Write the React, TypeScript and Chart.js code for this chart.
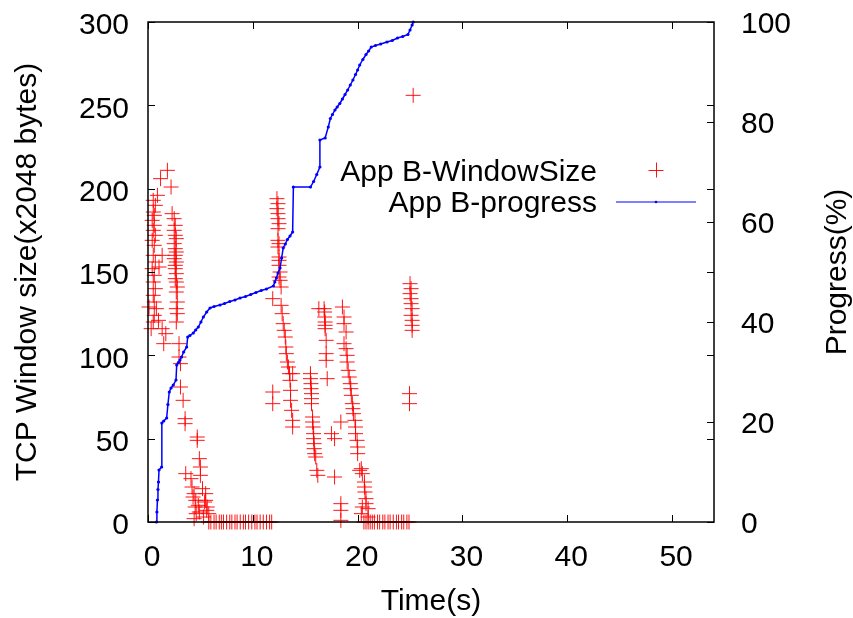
import React, { useEffect, useRef } from "react";
import { Chart, registerables } from "chart.js";

Chart.register(...registerables);

// ---- tick labels ----
const xTicks = [0, 10, 20, 30, 40, 50];
const yTicks = [0, 50, 100, 150, 200, 250, 300];
const y2Ticks = [0, 20, 40, 60, 80, 100];

// ---- App B-WindowSize (time s, window x2048 bytes) ----
const windowTime = [
  // cluster near t=0-1
  0.1, 0.9, 0.5, 0.7, 0.5, 0.6, 0.4, 0.6, 0.5, 0.7, 0.4, 0.6, 0.5, 0.7, 0.4, 0.6, 0.5, 0.7, 0.5, 0.6, 0.8, 0.6, 0.5, 0.3,
  1.2, 1.85, 2.2, 1.05, 1.35, 1.0, 1.35, 1.5, 1.7,
  // cluster near t=2.5
  2.3, 2.5, 2.6, 2.5, 2.6, 2.7, 2.5, 2.6, 2.7, 2.6, 2.5, 2.7, 2.6, 2.6, 2.7, 2.6, 2.7, 2.8, 2.7, 2.8, 2.7, 2.8, 2.7,
  // descent t=3-6
  2.96, 2.96, 3.1, 3.1, 3.35, 3.54, 3.54, 4.7, 4.7, 4.9, 5.0, 5.0, 3.6, 4.1, 4.2, 4.4, 4.56, 5.5, 5.5, 5.65, 5.8, 4.4,
  4.8, 5.2, 4.9, 5.3, 4.3, 4.5, 4.6, 5.4, 5.6,
  // zeros
  5.8, 6.0, 6.3, 6.5, 6.8, 7.0, 7.2, 7.5, 7.8, 8.0, 8.3, 8.5, 8.8, 9.1, 9.3, 9.6, 9.9, 10.2, 10.4, 10.7, 11.0, 11.3, 11.6, 11.8,
  // column near t=12.4
  12.3, 12.4, 12.3, 12.4, 12.4, 12.5, 12.4, 12.4, 12.5, 12.4, 12.5, 12.5, 12.5, 12.6, 12.5, 12.6, 12.7,
  11.9, 11.9, 11.9,
  12.7, 12.8, 12.9, 13.0, 13.1, 13.15, 13.2, 13.3, 13.4, 13.5, 13.55, 13.6, 13.6, 13.7, 13.8, 13.8, 13.8,
  // column near t=15.6
  15.5, 15.5, 15.55, 15.55, 15.6, 15.6, 15.6, 15.7, 15.7, 15.75, 15.8, 15.8, 15.85, 15.85, 15.9, 16.0, 16.1, 16.2,
  // column near t=16.9
  16.3, 16.8, 16.85, 16.85, 16.9, 16.9, 16.9, 17.0, 17.0, 17.0, 17.1,
  18.4, 17.5, 17.8, 17.8, 18.4, 18.4, 18.4,
  // descent t=18.5-21
  18.55, 18.7, 18.7, 18.9, 18.7, 18.9, 19.0, 19.0, 19.1, 19.2, 19.3, 19.35, 19.4, 19.5, 19.55, 19.6, 19.75, 19.8, 19.8,
  19.95, 20.0, 20.0, 20.2, 20.35, 20.45, 20.65, 20.65, 20.7, 20.8, 20.8, 21.0, 20.45, 20.35, 21.0,
  // zeros
  20.6, 20.8, 21.0, 21.2, 21.4, 21.6, 21.9, 22.1, 22.4, 22.6, 22.9, 23.1, 23.4, 23.7, 23.9, 24.2, 24.4, 24.7, 24.9,
  // column near t=25
  25.0, 25.1, 25.0, 25.1, 25.1, 25.2, 25.1, 25.2, 25.2, 25.2, 24.95, 24.95, 25.3,
];
const windowSize = [
  129, 196, 193, 190, 186, 184, 181, 178, 175, 172, 169, 166, 160, 156, 152, 148, 144, 140, 136, 132, 128, 124, 120, 116,
  206, 211, 201, 153, 160, 121, 116, 107, 113,
  185, 182, 178, 175, 172, 170, 167, 164, 162, 160, 158, 156, 154, 152, 149, 146, 144, 141, 138, 132, 128, 125, 120,
  107, 99, 95, 81, 73, 62, 59, 51, 49, 38, 33, 28, 29, 26, 21, 17, 13, 17, 13, 9, 5, 2,
  10, 20, 6, 3, 15, 9, 5, 12, 7,
  0, 0, 0, 0, 0, 0, 0, 0, 0, 0, 0, 0, 0, 0, 0, 0, 0, 0, 0, 0, 0, 0, 0, 0,
  194, 191, 188, 185, 182, 179, 176, 169, 167, 165, 159, 157, 154, 150, 147, 145, 141,
  134, 78, 71,
  130, 125, 119, 115, 111, 105, 101, 96, 93, 89, 85, 79, 73, 67, 61, 57, 89,
  89, 86, 83, 80, 77, 74, 71, 63, 60, 57, 53, 50, 47, 44, 41, 39, 31, 28,
  128, 128, 126, 123, 120, 118, 116, 109, 101, 97, 86,
  60, 53, 50, 27, 11, 7, 1,
  129, 123, 119, 114, 107, 104, 100, 96, 91, 87, 83, 80, 76, 71, 68, 65, 61, 57, 53,
  49, 45, 41, 31, 32, 29, 24, 21, 18, 14, 11, 8, 9, 5, 3,
  0, 0, 0, 0, 0, 0, 0, 0, 0, 0, 0, 0, 0, 0, 0, 0, 0, 0, 0,
  143, 140, 137, 134, 131, 128, 124, 121, 118, 115, 77, 71, 256,
];

// ---- App B-progress (time s, %) ----
const progressTime = [
  0.8, 0.85, 0.9, 0.95, 1.0, 1.05, 1.3, 1.32, 1.5, 1.78, 1.9, 2.03, 2.2, 2.41, 2.67, 2.74, 2.9, 3.05, 3.2, 3.4, 3.69,
  3.79, 4.0, 4.32, 4.55, 4.8, 5.05, 5.28, 5.6, 5.92, 6.3, 6.87, 7.3, 7.8, 8.3, 8.78, 9.3, 9.8, 10.3, 10.8, 11.3, 11.96,
  12.1, 12.25, 12.4, 12.6, 12.75, 12.9, 13.1, 13.3, 13.55, 13.8, 13.87, 15.5, 15.8, 16.1, 16.4, 16.4, 16.9, 17.2, 17.4,
  17.6, 17.84, 18.05, 18.3, 18.55, 18.8, 19.05, 19.3, 19.55, 19.8, 20.0, 20.2, 20.5, 20.8, 21.05, 21.3, 21.7, 22.2,
  22.8, 23.3, 23.8, 24.3, 24.8, 25.0, 25.2, 25.3,
];
const progressPct = [
  0, 2, 4.4, 6.5, 8, 10.4, 11, 19.8, 20.2, 20.8, 23.5, 26, 26.8, 27.4, 28.4, 31.4, 31.9, 32.4, 33, 34, 35,
  37, 37.3, 37.8, 38.4, 39, 40, 41, 42, 42.8, 43.1, 43.4, 43.7, 44.1, 44.4, 44.8, 45.1, 45.5, 45.9, 46.3, 46.6, 47.2,
  48, 48.8, 49.8, 50.8, 52.8, 54.8, 55.6, 56.5, 57.2, 58, 67, 67, 68.1, 69.5, 71, 76.4, 76.8, 79, 80.7,
  81.5, 82.4, 83, 83.7, 84.6, 85.5, 86.4, 87.4, 88.4, 89.5, 90.4, 91.4, 92.5, 93.5, 94.2, 95, 95.3, 95.6,
  96, 96.3, 96.8, 97.1, 97.5, 98.4, 99.4, 100,
];

const FONT = '30px "Liberation Sans", Arial, Helvetica, sans-serif';
const CAP = 10.7; // half cap height at 30px
const RED = "rgba(255,0,0,0.92)";
const BLUE = "#0000ff";

const framePlugin = {
  id: "gnuplotFrame",
  afterDraw(chart: any) {
    const { ctx, chartArea: a, scales } = chart;
    const xs = scales.x, ys = scales.y, y2s = scales.y2;
    ctx.save();
    // border
    ctx.strokeStyle = "#000";
    ctx.lineWidth = 1.5;
    ctx.strokeRect(a.left, a.top, a.right - a.left, a.bottom - a.top);
    // inward ticks
    ctx.lineWidth = 1;
    const tl = 7;
    ctx.beginPath();
    xTicks.forEach((v) => {
      const px = Math.round(xs.getPixelForValue(v)) + 0.5;
      ctx.moveTo(px, a.bottom); ctx.lineTo(px, a.bottom - tl);
      ctx.moveTo(px, a.top); ctx.lineTo(px, a.top + tl);
    });
    yTicks.forEach((v) => {
      const py = Math.round(ys.getPixelForValue(v)) + 0.5;
      ctx.moveTo(a.left, py); ctx.lineTo(a.left + tl, py);
      ctx.moveTo(a.right, py); ctx.lineTo(a.right - tl, py);
    });
    y2Ticks.forEach((v) => {
      const py = Math.round(y2s.getPixelForValue(v)) + 0.5;
      ctx.moveTo(a.right, py); ctx.lineTo(a.right - tl, py);
    });
    ctx.stroke();

    // tick labels
    ctx.fillStyle = "#000";
    ctx.font = FONT;
    ctx.textBaseline = "alphabetic";
    ctx.textAlign = "center";
    xTicks.forEach((v) => {
      ctx.fillText(String(v), xs.getPixelForValue(v) + 4, a.bottom + 43.5);
    });
    ctx.textAlign = "right";
    yTicks.forEach((v) => {
      ctx.fillText(String(v), a.left - 19, ys.getPixelForValue(v) + 1.5 + CAP);
    });
    ctx.textAlign = "left";
    y2Ticks.forEach((v) => {
      ctx.fillText(String(v), a.right + 27, y2s.getPixelForValue(v) + 0.5 + CAP);
    });

    // axis titles
    const midY = (a.top + a.bottom) / 2;
    ctx.textAlign = "center";
    ctx.fillText("Time(s)", (a.left + a.right) / 2, a.bottom + 87.5);
    ctx.save();
    ctx.translate(25 + CAP, midY);
    ctx.rotate(-Math.PI / 2);
    ctx.fillText("TCP Window size(x2048 bytes)", 0, 0);
    ctx.restore();
    ctx.save();
    ctx.translate(a.right + 121.5 + CAP, midY);
    ctx.rotate(-Math.PI / 2);
    ctx.fillText("Progress(%)", 0, 0);
    ctx.restore();

    // legend
    const textRight = a.right - 117;
    const sampleX = a.right - 58;
    const row1 = a.top + 148;
    const row2 = a.top + 179.5;
    ctx.textAlign = "right";
    ctx.fillText("App B-WindowSize", textRight, row1 + CAP);
    ctx.fillText("App B-progress", textRight, row2 + CAP);
    ctx.strokeStyle = RED;
    ctx.lineWidth = 1;
    ctx.beginPath();
    ctx.moveTo(sampleX - 7.5, row1 + 0.5); ctx.lineTo(sampleX + 7.5, row1 + 0.5);
    ctx.moveTo(sampleX + 0.5, row1 - 7.5); ctx.lineTo(sampleX + 0.5, row1 + 7.5);
    ctx.stroke();
    ctx.strokeStyle = BLUE;
    ctx.beginPath();
    ctx.moveTo(sampleX - 40, row2 + 0.5); ctx.lineTo(sampleX + 40, row2 + 0.5);
    ctx.stroke();
    ctx.fillStyle = BLUE;
    ctx.beginPath();
    ctx.arc(sampleX, row2 + 0.5, 1.3, 0, Math.PI * 2);
    ctx.fill();
    ctx.restore();
  },
};

export default function App() {
  const ref = useRef<HTMLCanvasElement | null>(null);
  useEffect(() => {
    document.body.style.margin = "0";
    if (!ref.current) return;
    const windowPoints = windowTime.map((t, i) => ({ x: t, y: windowSize[i] }));
    const progressPoints = progressTime.map((t, i) => ({ x: t, y: progressPct[i] }));
    const hidden = {
      ticks: { display: false },
      grid: { display: false },
      border: { display: false },
    };
    const chart = new Chart(ref.current, {
      type: "scatter",
      data: {
        datasets: [
          {
            label: "App B-progress",
            data: progressPoints,
            yAxisID: "y2",
            showLine: true,
            borderColor: BLUE,
            backgroundColor: BLUE,
            borderWidth: 1.5,
            pointRadius: 1.6,
            pointBorderWidth: 0,
            pointStyle: "circle",
            order: 0,
            clip: false,
          } as any,
          {
            label: "App B-WindowSize",
            data: windowPoints,
            yAxisID: "y",
            showLine: false,
            pointStyle: "cross",
            pointRadius: 7.5,
            borderColor: RED,
            backgroundColor: RED,
            borderWidth: 1,
            order: 1,
            clip: false,
          } as any,
        ],
      },
      options: {
        responsive: false,
        animation: false,
        events: [],
        layout: { padding: { top: 22, left: 0, right: 0, bottom: 0 } },
        plugins: { legend: { display: false }, tooltip: { enabled: false } },
        scales: {
          x: {
            type: "linear", min: 0, max: 54, ...hidden,
            afterFit: (s: any) => { s.height = 96; },
          },
          y: {
            type: "linear", position: "left", min: 0, max: 300, ...hidden,
            afterFit: (s: any) => { s.width = 148; },
          },
          y2: {
            type: "linear", position: "right", min: 0, max: 100, ...hidden,
            afterFit: (s: any) => { s.width = 139; },
          },
        },
      } as any,
      plugins: [framePlugin],
    });
    return () => chart.destroy();
  }, []);
  return (
    <div style={{ width: 853, height: 618, background: "#fff" }}>
      <canvas ref={ref} width={853} height={618} style={{ display: "block" }} />
    </div>
  );
}
